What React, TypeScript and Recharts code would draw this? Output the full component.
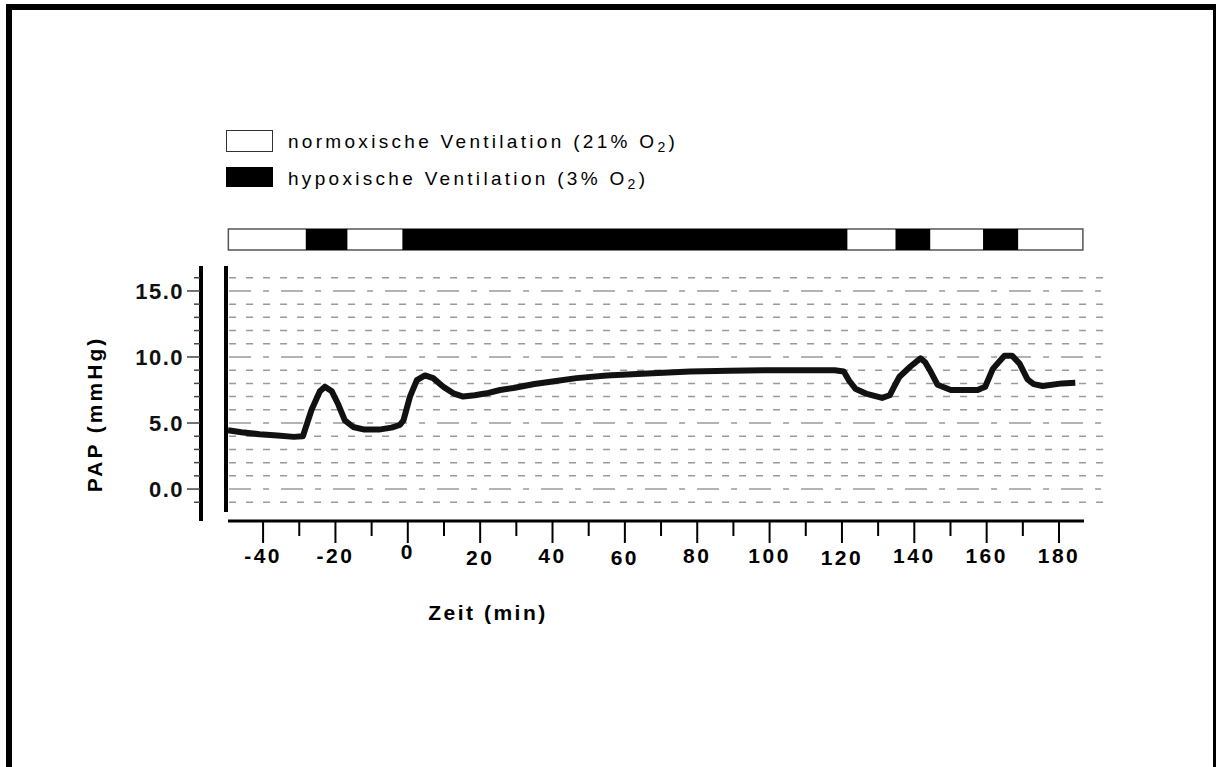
import { ComposedChart, Line, XAxis, YAxis, ReferenceLine, ReferenceArea } from 'recharts'

// PAP trace (time in min, pressure in mmHg)
const timeMin = [
  -49.7, -46, -41, -36, -31.5, -29, -26.6, -24.3, -22.9, -21, -19.2, -17.4, -15.1, -12, -8, -4.5, -2.2, -1.2,
  0.6, 2.5, 4.75, 7, 9.8, 12.6, 15.3, 18.5, 21.8, 25.5, 29.2, 35, 40, 46.6, 55, 67.7, 78, 88.9, 100, 110, 118,
  120.5, 122, 123.7, 126.9, 131.1, 133.2, 134.5, 135.9, 139, 141.7, 143, 144.3, 146.4, 150.1, 154, 157.5,
  159.6, 161.7, 164.9, 167, 169.1, 171.3, 173, 175.5, 180.8, 184.5,
]
const papMmHg = [
  4.45, 4.3, 4.15, 4.05, 3.95, 4.0, 6.0, 7.4, 7.75, 7.4, 6.4, 5.2, 4.7, 4.5, 4.5, 4.65, 4.85, 5.2,
  7.0, 8.25, 8.6, 8.4, 7.75, 7.25, 7.0, 7.1, 7.25, 7.5, 7.65, 7.95, 8.15, 8.4, 8.6, 8.77, 8.9, 8.96, 9.0, 9.0, 9.0,
  8.9, 8.2, 7.6, 7.2, 6.9, 7.1, 7.8, 8.5, 9.3, 9.9, 9.6, 9.0, 7.9, 7.5, 7.5, 7.5,
  7.75, 9.1, 10.1, 10.1, 9.5, 8.3, 7.95, 7.8, 8.0, 8.05,
]

// ventilation phases (strip above the trace)
const stripStart = -49.6
const stripEnd = 186.6
const hypoxiaStart = [-28.2, -1.5, 134.8, 159]
const hypoxiaEnd = [-16.7, 121.5, 144.4, 168.7]

const xTicks = [-40, -30, -20, -10, 0, 10, 20, 30, 40, 50, 60, 70, 80, 90, 100, 110, 120, 130, 140, 150, 160, 170, 180]
const xLabels = [-40, -20, 0, 20, 40, 60, 80, 100, 120, 140, 160, 180]
const yTicks = [-1, 0, 1, 2, 3, 4, 5, 6, 7, 8, 9, 10, 11, 12, 13, 14, 15, 16]
const yLabels = [0, 5, 10, 15]

const legendNormoxic = 'normoxische Ventilation (21% O'
const legendHypoxic = 'hypoxische Ventilation (3% O'

const data = timeMin.map((t, i) => ({ t, pap: papMmHg[i] }))

const FONT = '"Liberation Sans", Arial, Helvetica, sans-serif'
const X_DOMAIN: [number, number] = [-57.16, 194.09]
const Y_DOMAIN: [number, number] = [-2.42, 16.89]

// small hand-set label offsets, like the original figure
const labelShift: Record<number, number> = { 0: -4, 20: 2, 60: 2, 120: 2 }

function XTick({ x, y, payload }: any) {
  const v = payload.value
  const major = xLabels.includes(v)
  return (
    <g>
      <line x1={x} y1={y + 1} x2={x} y2={y + (major ? 22 : 15)} stroke="#000" strokeWidth={2} />
      {major && (
        <text x={x} y={y + 42 + (labelShift[v] ?? 0)} textAnchor="middle" fontSize={21} fontWeight="bold"
          letterSpacing={2.5} fontFamily={FONT} fill="#000">
          {v}
        </text>
      )}
    </g>
  )
}

function YTick({ x, y, payload }: any) {
  const v = payload.value
  const major = yLabels.includes(v)
  return (
    <g>
      <line x1={x - 1} y1={y} x2={x - (major ? 14 : 7)} y2={y} stroke="#444" strokeWidth={1.5} />
      {major && (
        <text x={x - 17} y={y} dy="0.36em" textAnchor="end" fontSize={22} fontWeight="bold"
          letterSpacing={1.5} fontFamily={FONT} fill="#111">
          {v.toFixed(1)}
        </text>
      )}
    </g>
  )
}

function LegendRow({ top, filled, text }: { top: number; filled: boolean; text: string }) {
  return (
    <>
      <div style={{
        position: 'absolute', left: 226, top, width: 47, height: filled ? 20 : 22, boxSizing: 'border-box',
        background: filled ? '#000' : '#fff', border: filled ? 'none' : '1.5px solid #333',
      }} />
      <div style={{
        position: 'absolute', left: 288, top: top + 2, fontFamily: FONT, fontSize: 19, lineHeight: '19px',
        letterSpacing: 3.3, color: '#000', whiteSpace: 'nowrap',
      }}>
        {text}
        <span style={{ fontSize: 14, position: 'relative', top: 4 }}>2</span>)
      </div>
    </>
  )
}

export default function App() {
  return (
    <div style={{ position: 'absolute', left: 0, top: 0, width: 1216, height: 767, overflow: 'hidden', background: '#fff' }}>
      <div style={{
        position: 'absolute', left: 6, top: 4, width: 1213, height: 900, boxSizing: 'border-box',
        border: '6px solid #000',
      }} />
      <LegendRow top={130} filled={false} text={legendNormoxic} />
      <LegendRow top={167} filled text={legendHypoxic} />
      <div style={{ position: 'absolute', left: 0, top: 0 }}>
        <ComposedChart width={1216} height={767} data={data} margin={{ top: 266, right: 106, bottom: 245, left: 200 }}>
          <XAxis dataKey="t" type="number" domain={X_DOMAIN} allowDataOverflow ticks={xTicks} interval={0}
            height={1} axisLine={false} tickLine={false} tickSize={0} tickMargin={0} tick={<XTick />}
            label={{
              content: ({ viewBox }: any) => (
                <text x={viewBox.x + 287} y={viewBox.y + 99} textAnchor="middle" fontSize={21} fontWeight="bold"
                  letterSpacing={2.5} fontFamily={FONT} fill="#000">
                  Zeit (min)
                </text>
              ),
            }} />
          <YAxis type="number" domain={Y_DOMAIN} allowDataOverflow ticks={yTicks} interval={0} width={1}
            axisLine={{ stroke: '#000', strokeWidth: 4 }} tickLine={false} tickSize={0} tickMargin={0} tick={<YTick />}
            label={{
              content: ({ viewBox }: any) => (
                <text x={viewBox.x + viewBox.width - 99} y={viewBox.y + 148}
                  transform={`rotate(-90 ${viewBox.x + viewBox.width - 99} ${viewBox.y + 148})`}
                  textAnchor="middle" fontSize={21} fontWeight="bold" letterSpacing={3} fontFamily={FONT} fill="#000">
                  PAP (mmHg)
                </text>
              ),
            }} />

          {yTicks.map((v) => (
            <ReferenceLine key={`g${v}`} ifOverflow="visible" stroke="#9a9a9a" strokeWidth={1.5}
              strokeDasharray={yLabels.includes(v) ? '22 12 6 12' : '7 10'}
              segment={[{ x: -49.4, y: v }, { x: X_DOMAIN[1], y: v }]} />
          ))}

          <ReferenceLine ifOverflow="visible" stroke="#000" strokeWidth={4}
            segment={[{ x: -50.25, y: -1.74 }, { x: -50.25, y: Y_DOMAIN[1] }]} />
          <ReferenceLine ifOverflow="visible" stroke="#000" strokeWidth={3}
            segment={[{ x: -49.7, y: Y_DOMAIN[0] }, { x: 186.9, y: Y_DOMAIN[0] }]} />

          <ReferenceArea ifOverflow="visible" x1={stripStart} x2={stripEnd} y1={18.1} y2={19.7}
            fill="#fff" fillOpacity={1} stroke="#555" strokeWidth={1.5} />
          {hypoxiaStart.map((s, i) => (
            <ReferenceArea key={`h${i}`} ifOverflow="visible" x1={s} x2={hypoxiaEnd[i]} y1={18.1} y2={19.7}
              fill="#000" fillOpacity={1} stroke="none" />
          ))}

          <Line dataKey="pap" type="linear" stroke="#111" strokeWidth={6} strokeLinejoin="round" dot={false}
            isAnimationActive={false} />
        </ComposedChart>
      </div>
    </div>
  )
}
